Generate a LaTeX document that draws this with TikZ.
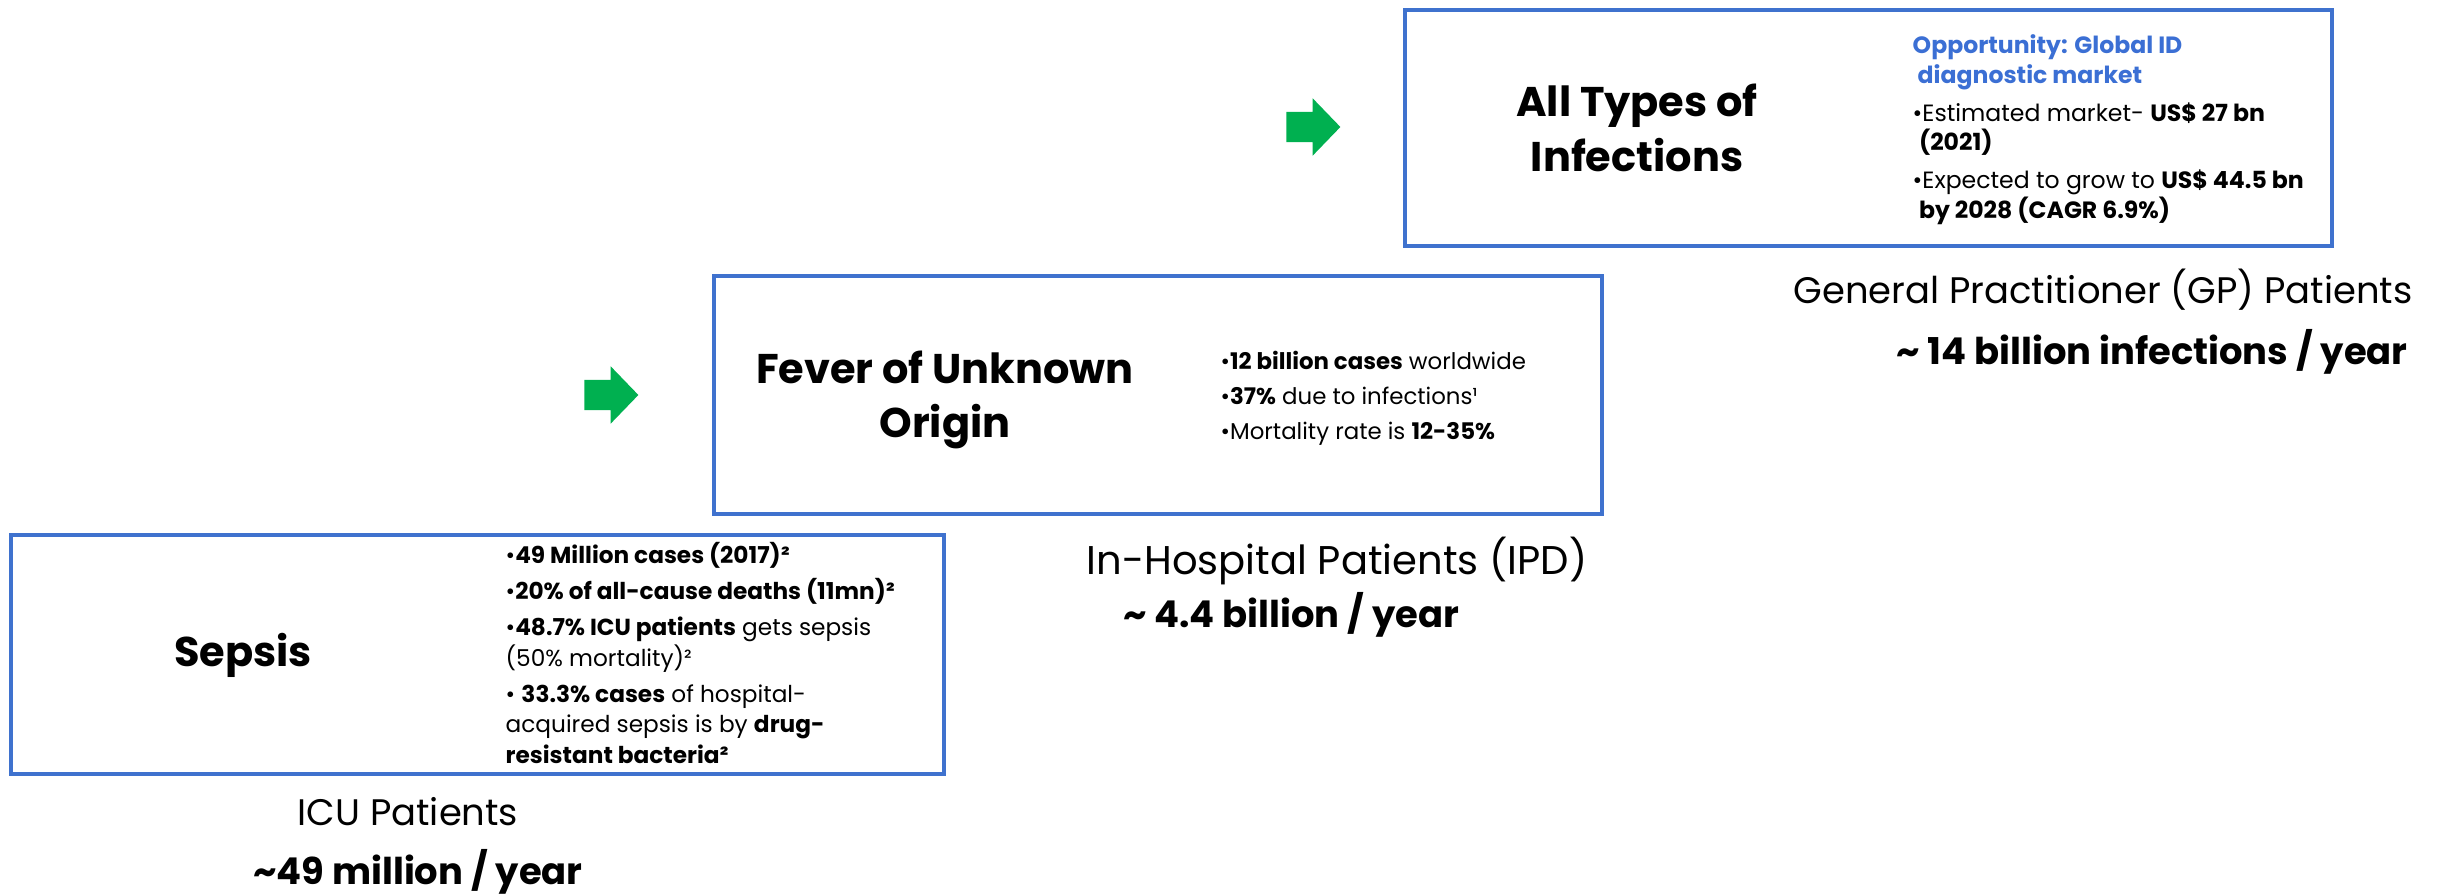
\documentclass[tikz,border=0pt]{standalone}
\usepackage{fontspec}
\setmainfont{Poppins}
\usetikzlibrary{shapes.arrows}
\definecolor{boxblue}{RGB}{63,114,206}
\definecolor{optblue}{RGB}{59,111,212}
\definecolor{arrowgreen}{RGB}{0,176,80}

\begin{document}
\begin{tikzpicture}[
  x=0.01cm, y=-0.01cm,
  panel/.style={draw=boxblue,line width=1.1pt,rectangle,inner sep=0pt},
  gnode/.style={single arrow,fill=arrowgreen,draw=none,inner xsep=0pt,inner ysep=0.145cm,
    minimum width=0.56cm,minimum height=0.54cm,
    single arrow head extend=0.135cm,single arrow tip angle=92},
  title/.style={font=\fontsize{11.8}{15.6}\selectfont\bfseries,align=center,inner sep=0pt},
  facts/.style={align=left,inner sep=0pt,anchor=north west},
  caption/.style={font=\fontsize{10.5}{12}\selectfont,inner sep=0pt,anchor=base},
  count/.style={font=\fontsize{10.5}{12}\selectfont\bfseries,inner sep=0pt,anchor=base}
]
  \useasboundingbox (0,0) rectangle (2443,895);

  % boxes
  \node[panel,minimum width=9.27cm,minimum height=2.36cm] (infbox) at (1868.5,128) {};
  \node[panel,minimum width=8.88cm,minimum height=2.38cm] (fevbox) at (1158,395) {};
  \node[panel,minimum width=9.33cm,minimum height=2.39cm] (sepbox) at (477.5,654.5) {};

  % arrows
  \node[gnode] (arrA) at (1306,127) {};
  \node[gnode] (arrB) at (604,395) {};

  % titles
  \node[title] (inftitle) at (1637,128) {All Types of\\Infections};
  \node[title] (fevtitle) at (945,400) {Fever of Unknown\\Origin};
  \node[title] (septitle) at (243,655) {Sepsis};

  % facts
  \node[facts,font=\fontsize{6.7}{8.5}\selectfont] (inffacts) at (1912,34)
    {\textcolor{optblue}{\bfseries Opportunity: Global ID}\\
     \textcolor{optblue}{\bfseries\ diagnostic market}\\[2.2pt]
     {\textbullet}Estimated market- \textbf{US\$ 27 bn}\\
     \ \textbf{(2021)}\\[2.2pt]
     {\textbullet}Expected to grow to \textbf{US\$ 44.5 bn}\\
     \ \textbf{by 2028 (CAGR 6.9\%)}};
  \node[facts,font=\fontsize{6.5}{10}\selectfont] (fevfacts) at (1220,350)
    {{\textbullet}\textbf{12 billion cases} worldwide\\
     {\textbullet}\textbf{37\%} due to infections¹\\
     {\textbullet}Mortality rate is \textbf{12-35\%}};
  \node[facts,font=\fontsize{6.6}{8.7}\selectfont] (sepfacts) at (505,542)
    {{\textbullet}\textbf{49 Million cases (2017)²}\\[1.5pt]
     {\textbullet}\textbf{20\% of all-cause deaths (11mn)²}\\[1.5pt]
     {\textbullet}\textbf{48.7\% ICU patients} gets sepsis\\
     (50\% mortality)²\\[1.5pt]
     {\textbullet} \textbf{33.3\% cases} of hospital-\\
     acquired sepsis is by \textbf{drug-}\\
     \textbf{resistant bacteria²}};

  % patient groups
  \node[caption] (gplabel) at (2103,304) {General Practitioner (GP) Patients};
  \node[count] (gpcount) at (2152,365) {\textasciitilde{} 14 billion infections / year};
  \node[caption,font=\fontsize{11.4}{13}\selectfont] (ipdlabel) at (1337,575) {In-Hospital Patients (IPD)};
  \node[count] (ipdcount) at (1291,628) {\textasciitilde{} 4.4 billion / year};
  \node[caption] (iculabel) at (408,826) {ICU Patients};
  \node[count] (icucount) at (418,884) {\textasciitilde49 million / year};

\end{tikzpicture}
\end{document}
